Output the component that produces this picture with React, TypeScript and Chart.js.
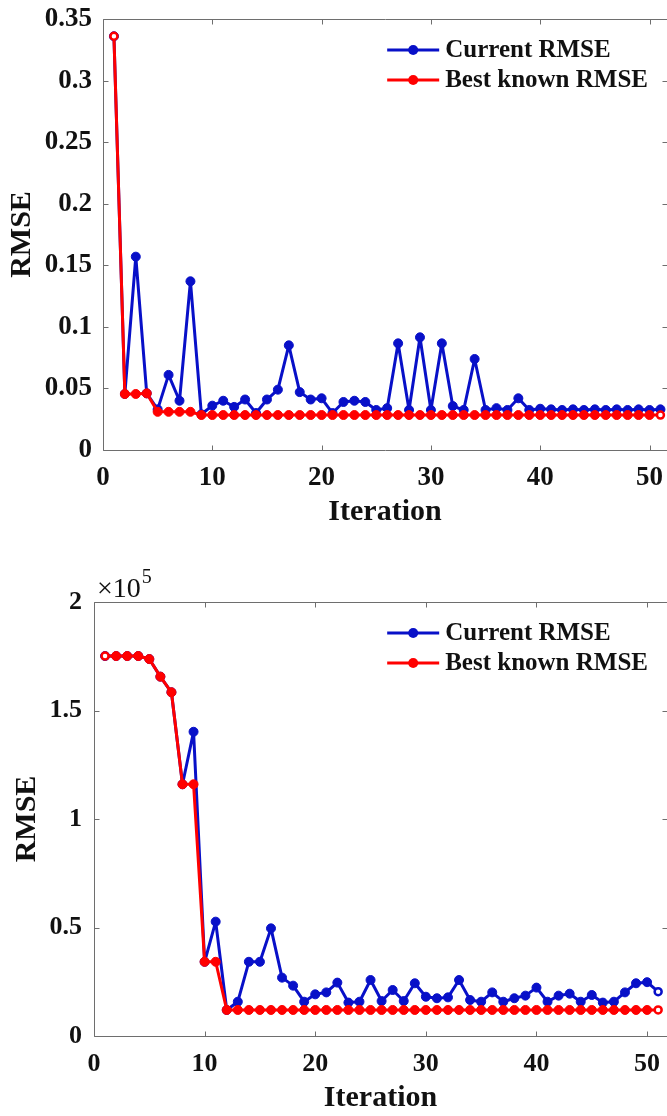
import React, { useEffect, useRef } from 'react';
import { Chart, registerables } from 'chart.js';

Chart.register(...registerables);

const FONT = "'Liberation Serif', 'Times New Roman', Times, serif";
const BLUE = '#0810c8';
const RED = '#ff0000';
const AXIS = '#6e6e6e';
const TEXT = '#111111';

// ---------- data ----------
const iterations = [
  1, 2, 3, 4, 5, 6, 7, 8, 9, 10,
  11, 12, 13, 14, 15, 16, 17, 18, 19, 20,
  21, 22, 23, 24, 25, 26, 27, 28, 29, 30,
  31, 32, 33, 34, 35, 36, 37, 38, 39, 40,
  41, 42, 43, 44, 45, 46, 47, 48, 49, 50,
  51,
];

const seriesNames = ['Current RMSE', 'Best known RMSE'];

// Top chart
const current1 = [
  0.336, 0.0455, 0.157, 0.046, 0.033, 0.061, 0.040, 0.137, 0.029, 0.036,
  0.040, 0.035, 0.041, 0.030, 0.041, 0.049, 0.085, 0.047, 0.041, 0.042,
  0.030, 0.039, 0.040, 0.039, 0.0325, 0.034, 0.0866, 0.0325, 0.0915, 0.0325,
  0.0866, 0.0357, 0.0325, 0.0739, 0.0325, 0.034, 0.0325, 0.042, 0.0325, 0.0335,
  0.033, 0.0325, 0.033, 0.0325, 0.033, 0.0325, 0.033, 0.0325, 0.033, 0.0325,
  0.033,
];
const best1 = [
  0.336, 0.0455, 0.0455, 0.046, 0.031, 0.031, 0.031, 0.031, 0.0284, 0.0284,
  0.0284, 0.0284, 0.0284, 0.0284, 0.0284, 0.0284, 0.0284, 0.0284, 0.0284, 0.0284,
  0.0284, 0.0284, 0.0284, 0.0284, 0.0284, 0.0284, 0.0284, 0.0284, 0.0284, 0.0284,
  0.0284, 0.0284, 0.0284, 0.0284, 0.0284, 0.0284, 0.0284, 0.0284, 0.0284, 0.0284,
  0.0284, 0.0284, 0.0284, 0.0284, 0.0284, 0.0284, 0.0284, 0.0284, 0.0284, 0.0284,
  0.0284,
];
const openCurrent1: number[] = [];
const openBest1 = [1, 51];

// Bottom chart
const current2 = [
  175100, 175100, 175100, 175100, 173700, 165600, 158400, 116000, 140200, 34200,
  52700, 12000, 15800, 34200, 34200, 49600, 26900, 23200, 15800, 19200,
  20100, 24600, 15400, 15800, 25800, 16100, 21200, 16100, 24300, 18100,
  17400, 17800, 25800, 16600, 15800, 20100, 15800, 17400, 18600, 22300,
  15800, 18600, 19500, 15800, 18900, 15400, 15800, 20100, 24300, 24800,
  20400,
];
const best2 = [
  175100, 175100, 175100, 175100, 173700, 165600, 158400, 116000, 116000, 34200,
  34200, 12000, 12000, 12000, 12000, 12000, 12000, 12000, 12000, 12000,
  12000, 12000, 12000, 12000, 12000, 12000, 12000, 12000, 12000, 12000,
  12000, 12000, 12000, 12000, 12000, 12000, 12000, 12000, 12000, 12000,
  12000, 12000, 12000, 12000, 12000, 12000, 12000, 12000, 12000, 12000,
  12000,
];
const openCurrent2 = [51];
const openBest2 = [1, 51];

const xTickValues = [0, 10, 20, 30, 40, 50];
const xTickLabels = ['0', '10', '20', '30', '40', '50'];
const yTickValues1 = [0, 0.05, 0.1, 0.15, 0.2, 0.25, 0.3, 0.35];
const yTickLabels1 = ['0', '0.05', '0.1', '0.15', '0.2', '0.25', '0.3', '0.35'];
const yTickValues2 = [0, 50000, 100000, 150000, 200000];
const yTickLabels2 = ['0', '0.5', '1', '1.5', '2'];

// ---------- helpers ----------
function labelFor(values: number[], labels: string[], v: number) {
  let best = 0;
  let bestD = Infinity;
  values.forEach((tv, i) => {
    const d = Math.abs(tv - v);
    if (d < bestD) { bestD = d; best = i; }
  });
  return labels[best];
}

const framePlugin = {
  id: 'matlabFrame',
  afterDraw(chart: any) {
    const { ctx, chartArea: a, scales } = chart;
    const tl = 5;
    ctx.save();
    ctx.strokeStyle = AXIS;
    ctx.lineWidth = 1;
    ctx.beginPath();
    const L = Math.round(a.left) + 0.5;
    const R = Math.round(a.right) + 0.5;
    const T = Math.round(a.top) + 0.5;
    const B = Math.round(a.bottom) + 0.5;
    ctx.moveTo(L, T); ctx.lineTo(R, T); ctx.lineTo(R, B); ctx.lineTo(L, B); ctx.closePath();
    scales.x.ticks.forEach((t: any) => {
      const px = Math.round(scales.x.getPixelForValue(t.value)) + 0.5;
      ctx.moveTo(px, B); ctx.lineTo(px, B - tl);
      ctx.moveTo(px, T); ctx.lineTo(px, T + tl);
    });
    scales.y.ticks.forEach((t: any) => {
      const py = Math.round(scales.y.getPixelForValue(t.value)) + 0.5;
      ctx.moveTo(L, py); ctx.lineTo(L + tl, py);
      ctx.moveTo(R, py); ctx.lineTo(R - tl, py);
    });
    ctx.stroke();
    ctx.restore();
  },
};

const legendPlugin = {
  id: 'insetLegend',
  afterDraw(chart: any) {
    const { ctx, chartArea: a } = chart;
    const ds = chart.data.datasets;
    ctx.save();
    ctx.font = `bold 25px ${FONT}`;
    const widths = ds.map((d: any) => ctx.measureText(d.label).width);
    const maxW = Math.max(...widths);
    const textX = a.right - 19 - maxW;
    const lineEnd = textX - 6;
    const lineStart = lineEnd - 52;
    ds.forEach((d: any, i: number) => {
      const y = a.top + 31 + i * 30;
      ctx.strokeStyle = d.borderColor;
      ctx.lineWidth = 3;
      ctx.beginPath();
      ctx.moveTo(lineStart, y);
      ctx.lineTo(lineEnd, y);
      ctx.stroke();
      ctx.fillStyle = d.borderColor;
      ctx.beginPath();
      ctx.arc((lineStart + lineEnd) / 2, y, 5, 0, Math.PI * 2);
      ctx.fill();
      ctx.fillStyle = TEXT;
      ctx.textAlign = 'left';
      ctx.textBaseline = 'middle';
      ctx.fillText(d.label, textX, y + 1);
    });
    ctx.restore();
  },
};

const exponentPlugin = {
  id: 'exponentLabel',
  afterDraw(chart: any, _args: any, opts: any) {
    if (!opts || !opts.show) return;
    const { ctx, chartArea: a } = chart;
    ctx.save();
    ctx.fillStyle = TEXT;
    ctx.textAlign = 'left';
    ctx.textBaseline = 'alphabetic';
    ctx.font = `28px ${FONT}`;
    const base = '\u00d710';
    const x0 = a.left + 3;
    const yb = a.top - 5;
    ctx.fillText(base, x0, yb);
    const w = ctx.measureText(base).width;
    ctx.font = `20px ${FONT}`;
    ctx.fillText('5', x0 + w + 1, yb - 14);
    ctx.restore();
  },
};

type Spec = {
  current: number[];
  best: number[];
  openCurrent: number[];
  openBest: number[];
  yTickValues: number[];
  yTickLabels: string[];
  yMax: number;
  xMax: number;
  padTop: number;
  yWidth: number;
  xHeight: number;
  tickSize: number;
  xTickPad: number;
  yTickPad: number;
  xTitlePadBottom: number;
  yTitlePadTop: number;
  showExponent: boolean;
};

function makeDataset(label: string, values: number[], open: number[], color: string, order: number) {
  return {
    label,
    data: iterations.map((x, i) => ({ x, y: values[i] })),
    borderColor: color,
    backgroundColor: color,
    borderWidth: 3,
    borderJoinStyle: 'round',
    borderCapStyle: 'round',
    tension: 0,
    order,
    clip: 8,
    pointRadius: iterations.map((it) => (open.includes(it) ? 3.5 : 4.5)),
    pointBorderWidth: iterations.map((it) => (open.includes(it) ? 2.5 : 1)),
    pointBackgroundColor: iterations.map((it) => (open.includes(it) ? '#ffffff' : color)),
    pointBorderColor: color,
    pointHoverRadius: 4.5,
  };
}

function makeConfig(s: Spec): any {
  const tickFont = { family: FONT, size: s.tickSize, weight: 'bold' as const, lineHeight: 1 };
  const titleFont = { family: FONT, size: 30, weight: 'bold' as const, lineHeight: 1 };
  return {
    type: 'line',
    data: {
      datasets: [
        makeDataset(seriesNames[0], s.current, s.openCurrent, BLUE, 2),
        makeDataset(seriesNames[1], s.best, s.openBest, RED, 1),
      ],
    },
    options: {
      responsive: false,
      animation: false,
      devicePixelRatio: 1,
      layout: { autoPadding: false, padding: { top: s.padTop, left: 0, right: 0, bottom: 0 } },
      plugins: {
        legend: { display: false },
        tooltip: { enabled: false },
        exponentLabel: { show: s.showExponent },
      },
      scales: {
        x: {
          type: 'linear',
          min: 0,
          max: s.xMax,
          afterBuildTicks: (scale: any) => {
            scale.ticks = xTickValues.map((v) => ({ value: v }));
          },
          afterFit: (scale: any) => {
            scale.height = s.xHeight;
            scale.paddingLeft = 0;
            scale.paddingRight = 0;
          },
          grid: { display: false, drawTicks: false },
          border: { display: false },
          ticks: {
            padding: s.xTickPad,
            font: tickFont,
            color: TEXT,
            autoSkip: false,
            maxRotation: 0,
            callback: (v: number) => labelFor(xTickValues, xTickLabels, v),
          },
          title: {
            display: true,
            text: 'Iteration',
            color: TEXT,
            font: titleFont,
            padding: { top: 0, bottom: s.xTitlePadBottom },
          },
        },
        y: {
          type: 'linear',
          min: 0,
          max: s.yMax,
          afterBuildTicks: (scale: any) => {
            scale.ticks = s.yTickValues.map((v) => ({ value: v }));
          },
          afterFit: (scale: any) => {
            scale.width = s.yWidth;
            scale.paddingTop = 0;
            scale.paddingBottom = 0;
          },
          grid: { display: false, drawTicks: false },
          border: { display: false },
          ticks: {
            padding: s.yTickPad,
            font: tickFont,
            color: TEXT,
            autoSkip: false,
            callback: (v: number) => labelFor(s.yTickValues, s.yTickLabels, v),
          },
          title: {
            display: true,
            text: 'RMSE',
            color: TEXT,
            font: titleFont,
            padding: { top: s.yTitlePadTop, bottom: 0 },
          },
        },
      },
    },
    plugins: [framePlugin, legendPlugin, exponentPlugin],
  };
}

function ChartCanvas({ spec, width, height }: { spec: Spec; width: number; height: number }) {
  const ref = useRef<HTMLCanvasElement | null>(null);
  useEffect(() => {
    if (!ref.current) return;
    const chart = new Chart(ref.current, makeConfig(spec));
    return () => chart.destroy();
  }, [spec]);
  return (
    <canvas
      ref={ref}
      width={width}
      height={height}
      style={{ display: 'block', width, height }}
    />
  );
}

const spec1: Spec = {
  current: current1,
  best: best1,
  openCurrent: openCurrent1,
  openBest: openBest1,
  yTickValues: yTickValues1,
  yTickLabels: yTickLabels1,
  yMax: 0.35,
  xMax: 51.6,
  padTop: 19,
  yWidth: 103,
  xHeight: 90,
  tickSize: 27,
  xTickPad: 14.5,
  yTickPad: 11,
  xTitlePadBottom: 12.5,
  yTitlePadTop: 7,
  showExponent: false,
};

const spec2: Spec = {
  current: current2,
  best: best2,
  openCurrent: openCurrent2,
  openBest: openBest2,
  yTickValues: yTickValues2,
  yTickLabels: yTickLabels2,
  yMax: 200000,
  xMax: 51.8,
  padTop: 62,
  yWidth: 94,
  xHeight: 80,
  tickSize: 26,
  xTickPad: 15,
  yTickPad: 12,
  xTitlePadBottom: 2.5,
  yTitlePadTop: 12,
  showExponent: true,
};

export default function App() {
  return (
    <div
      style={{
        position: 'absolute',
        left: 0,
        top: 0,
        width: 667,
        height: 1116,
        background: '#ffffff',
        overflow: 'hidden',
      }}
    >
      <ChartCanvas spec={spec1} width={667} height={540} />
      <ChartCanvas spec={spec2} width={667} height={576} />
    </div>
  );
}
